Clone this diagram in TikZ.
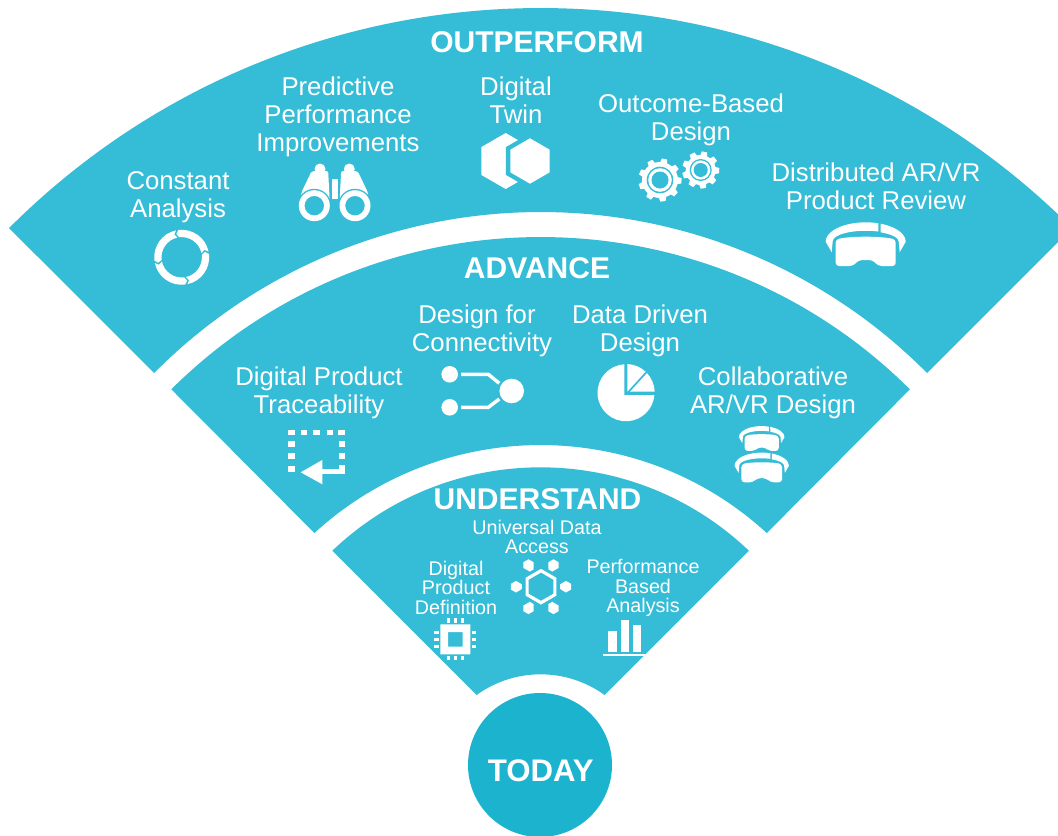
\documentclass[tikz,border=0pt]{standalone}
\usepackage{fontspec}
\setmainfont{Liberation Sans}
\definecolor{band}{HTML}{35BCD6}
\definecolor{core}{HTML}{1CB3CE}
\tikzset{
  bandfill/.style={fill=band,draw=none},
  icon/.style={fill=white,draw=none},
  gapfill/.style={fill=band,draw=none},
  bigtext/.style={text=white,align=center,inner sep=0pt,font=\fontsize{19.3}{21}\selectfont},
  smalltext/.style={text=white,align=center,inner sep=0pt,font=\fontsize{14.8}{14.6}\selectfont},
  headtext/.style={text=white,align=center,inner sep=0pt,font=\bfseries\fontsize{22.5}{24}\selectfont},
}
% outer radius, half angle, top y ; inner radius, half angle, top y
\newcommand\bandsector[6]{%
  \fill[bandfill] ([shift={(0,{-(#3+#1)})}]90-#2:#1) arc[start angle=90-#2,end angle=90+#2,radius=#1]
    -- ([shift={(0,{-(#6+#4)})}]90+#5:#4) arc[start angle=90+#5,end angle=90-#5,radius=#4] -- cycle;}
\newcommand\hexshape[4][icon]{%
  \fill[#1,shift={(#2,#3)}] (90:#4) -- (150:#4) -- (210:#4) -- (270:#4) -- (330:#4) -- (30:#4) -- cycle;}
\newcommand\goggleicon[3]{%
  \begin{scope}[shift={(#1,#2)},y=0.75pt,scale=#3]
    \fill[icon] (-34,-7.3) -- (-40,3.3) arc[start angle=180,end angle=71.5,x radius=40,y radius=19.4] -- (12.7,13.45) arc[start angle=67.4,end angle=180,x radius=33,y radius=10.5] -- cycle;
    \fill[icon] (34,-7.3) -- (40,3.3) arc[start angle=0,end angle=68,x radius=40,y radius=19.4] -- (15,12.65) arc[start angle=63,end angle=0,x radius=33,y radius=10.5] -- cycle;
    \fill[icon,rounded corners=2.4pt] (-30,5.5) .. controls (-15,9) and (15,9) .. (30,5.5) -- (30,-21) -- (13,-21) -- (6.5,-15) -- (-6.5,-15) -- (-13,-21) -- (-30,-21) -- cycle;
  \end{scope}}
\newcommand\gearicon[7]{%
  \begin{scope}[shift={(#1,#2)}]
    \fill[icon] (0,0) circle[radius=#4];
    \foreach \a in {0,40,...,320} \fill[icon,rotate=\a+8] (-3.6,#4-1) -- (-2.7,#3) -- (2.7,#3) -- (3.6,#4-1) -- cycle;
    \fill[gapfill] (0,0) circle[radius=#5];
    \fill[icon] (0,0) circle[radius=#6];
    \fill[gapfill] (0,0) circle[radius=#7];
  \end{scope}}
\begin{document}
\begin{tikzpicture}[x=0.75pt,y=-0.75pt]
\useasboundingbox (0,0) rectangle (1058,836);
\fill[white] (0,0) rectangle (1058,836);
\begin{scope}
  \clip (0,0) rectangle (1058,836);
  \begin{scope}[shift={(540.6,0)},y=0.75pt]
    \bandsector{752}{44.98}{8}{544.4}{45.23}{212}
    \bandsector{523.9}{44.82}{237}{334.7}{42.52}{445}
    \bandsector{301.8}{43.65}{467.3}{109.3}{35.84}{674.3}
  \end{scope}
\end{scope}
% core circle
\node[circle,fill=core,minimum size=108pt,inner sep=0pt,text=white,font=\bfseries\fontsize{23.4}{24}\selectfont] (today) at (540,765) {\hspace{1pt}\raisebox{-12pt}[0pt][0pt]{TODAY}};
% headings
\node[headtext] (outperform) at (537,42.5) {OUTPERFORM};
\node[headtext] (advance) at (537,268.5) {ADVANCE};
\node[headtext] (understand) at (537.5,499.5) {UNDERSTAND};
% labels
\node[bigtext] (constant) at (178,197) {Constant\\Analysis};
\node[bigtext] (predictive) at (338,117) {Predictive\\Performance\\Improvements};
\node[bigtext] (twin) at (516,100) {Digital\\Twin};
\node[bigtext] (outcome) at (691,119.5) {Outcome-Based\\Design};
\node[bigtext] (distributed) at (876,186) {Distributed AR/VR\\Product Review};
\node[bigtext] (connectivity) at (482,331) {Design for\hspace{7.5pt}\null\\Connectivity};
\node[bigtext] (datadriven) at (640,331) {Data Driven\\Design};
\node[bigtext] (traceability) at (319,393) {Digital Product\\Traceability};
\node[bigtext] (collab) at (773,393) {Collaborative\\AR/VR Design};
\node[smalltext] (universal) at (537,537) {Universal Data\\Access};
\node[smalltext] (definition) at (456,587.5) {Digital\\Product\\Definition};
\node[smalltext] (performance) at (643,588) {Performance\\Based\\Analysis};
% cycle icon
\begin{scope}[shift={(181.7,257.3)},y=0.75pt]
  \foreach \a in {12,102,192,282}
    \fill[icon] (\a:27.5) arc[start angle=\a,end angle=\a+85,radius=27.5] -- (\a+91:24) -- (\a+85:20.2) arc[start angle=\a+85,end angle=\a,radius=20.2] -- (\a+6:24) -- cycle;
\end{scope}
% binoculars
\foreach \m in {1,-1}{
  \begin{scope}[shift={(334.65,0)},xscale=\m]
    \fill[icon] (-14.65,169) circle[radius=5.5];
    \fill[icon,rounded corners=1.5pt] (-23,171) -- (-6.5,171) -- (-5,200) -- (-33.5,200) -- (-33.5,193) -- cycle;
    \fill[gapfill] (-20.35,205.7) circle[radius=16.9];
    \fill[icon,even odd rule] (-20.35,205.7) circle[radius=15.5] (-20.35,205.7) circle[radius=9.8];
  \end{scope}}
\fill[icon] (332.3,178.5) rectangle (337.7,198.5);
% digital twin
\hexshape{505.7}{161}{28}
\hexshape[gapfill]{530}{161}{27.8}
\hexshape{530}{161}{22.7}
% gears
\gearicon{660}{180}{21.5}{18}{13.3}{11.8}{8.5}
\gearicon{700.7}{170}{18.5}{15}{11}{9.6}{7}
% large goggles
\goggleicon{865.7}{245}{1}
% connectivity
\fill[icon] (449.7,374.3) circle[radius=8.3] (449.7,407.3) circle[radius=8.3] (511.7,391) circle[radius=12.3];
\draw[white,line width=2.6pt] (461,374.3) -- (488.3,374.3) -- (499.3,383.3);
\draw[white,line width=2.6pt] (461,407.3) -- (488.3,407.3) -- (499.3,399);
% traceability icon
\foreach \xa/\xb in {288.3/295,300.7/307.3,313.3/320,326.7/333.3,338.3/345}
  \fill[icon] (\xa,429.5) rectangle (\xb,434.5);
\foreach \ya/\yb in {441/446.7,453.3/459,466/471.7}
  \fill[icon] (288.3,\ya) rectangle (295,\yb);
\foreach \ya/\yb in {441/446.7,453.3/459}
  \fill[icon] (339,\ya) rectangle (345,\yb);
\fill[icon] (322.3,460) -- (300.7,472.3) -- (322.3,484.3) -- cycle;
\fill[icon] (322,469.3) rectangle (345,474.3);
\fill[icon] (339,465) rectangle (345,474.3);
% pie
\begin{scope}[shift={(626,392.7)},y=0.75pt]
  \fill[icon] (-1.7,-2.3) -- (-1.7,28.4) arc[start angle=93.4,end angle=355.4,radius=28.5] -- cycle;
  \fill[icon] (1.3,1) -- (1.3,28.7) arc[start angle=87.4,end angle=47,radius=28.7] -- cycle;
  \fill[icon] (4,1) -- (43:28.7) arc[start angle=43,end angle=2,radius=28.7] -- cycle;
\end{scope}
% stacked goggles
\goggleicon{761.7}{439}{0.57}
\goggleicon{761.7}{468}{0.68}
% data-access hexagon
\draw[white,line width=2.4pt] (541,570.7) -- ++(13.86,8) -- ++(0,16) -- ++(-13.86,8) -- ++(-13.86,-8) -- ++(0,-16) -- cycle;
\begin{scope}[shift={(541,586.7)}]
  \foreach \a in {0,60,...,300}{
    \hexshape{{25*cos(\a)}}{{25*sin(\a)}}{5.8}
    \draw[white,line width=1.9pt,rotate=\a] (20,-2.5) -- (20,2.5);
  }
\end{scope}
% chip
\fill[icon,even odd rule] (440.3,624.3) rectangle (470.3,654.3) (448.1,632.1) rectangle (462.5,646.5);
\foreach \d in {-7,0,7}{
  \fill[icon] (455.3+\d-1.6,618.3) rectangle (455.3+\d+1.6,622.8);
  \fill[icon] (455.3+\d-1.6,655.8) rectangle (455.3+\d+1.6,660.3);
  \fill[icon] (434.3,639.3+\d-1.4) rectangle (439,639.3+\d+1.4);
  \fill[icon] (471.6,639.3+\d-1.4) rectangle (476.3,639.3+\d+1.4);
}
% bars
\fill[icon] (608.3,631) rectangle (617.3,652);
\fill[icon] (620.7,620) rectangle (629.3,652);
\fill[icon] (632.7,625) rectangle (641,652);
\fill[icon] (603.3,654.2) rectangle (645,655.7);
\end{tikzpicture}
\end{document}
